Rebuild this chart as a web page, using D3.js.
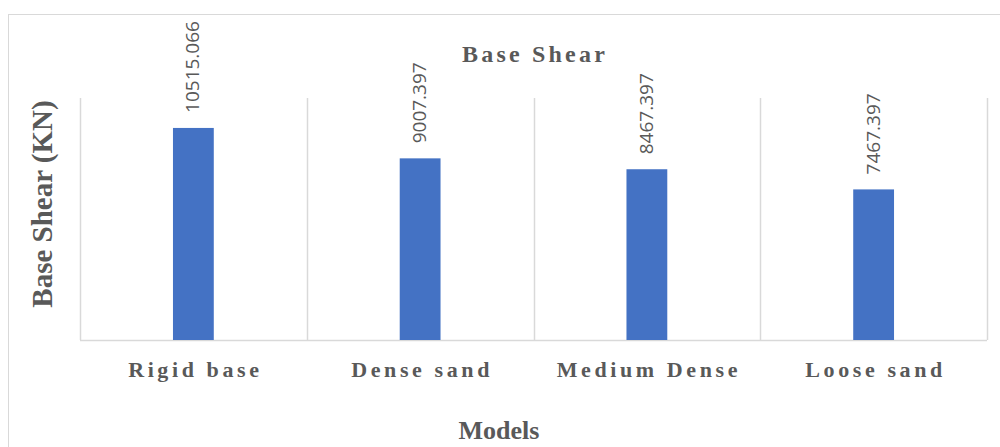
<!DOCTYPE html>
<html>
<head>
<meta charset="utf-8">
<script src="https://cdn.jsdelivr.net/npm/d3@7"></script>
<style>
  body { margin: 0; background: #fff; }
  svg { display: block; }
</style>
</head>
<body>
<div id="chart"></div>
<script>
const categories = ['Rigid base', 'Dense sand', 'Medium Dense', 'Loose sand'];
const values = [10515.066, 9007.397, 8467.397, 7467.397];
const labels = ['10515.066', '9007.397', '8467.397', '7467.397'];

const W = 1000, H = 447;
const plot = { left: 80, right: 987, top: 98, bottom: 340 };
const textColor = '#595959';
const gridColor = '#d9d9d9';

const svg = d3.select('#chart').append('svg')
  .attr('width', W)
  .attr('height', H);

// chart border
svg.append('rect')
  .attr('x', 8.5).attr('y', 14.5)
  .attr('width', 1010).attr('height', 450)
  .attr('fill', 'none')
  .attr('stroke', gridColor)
  .attr('stroke-width', 1);

const x = d3.scaleBand()
  .domain(categories)
  .range([plot.left, plot.right])
  .padding(0);

const y = d3.scaleLinear()
  .domain([0, 12000])
  .range([plot.bottom, plot.top]);

// vertical category separators
const edges = categories.map(c => x(c)).concat([plot.right]);
svg.append('g')
  .selectAll('line')
  .data(edges)
  .join('line')
  .attr('x1', d => Math.round(d) + 0.5)
  .attr('x2', d => Math.round(d) + 0.5)
  .attr('y1', y(12000))
  .attr('y2', y(0))
  .attr('stroke', gridColor)
  .attr('stroke-width', 1.5);

// baseline
svg.append('line')
  .attr('x1', plot.left).attr('x2', plot.right)
  .attr('y1', y(0) + 0.5).attr('y2', y(0) + 0.5)
  .attr('stroke', gridColor)
  .attr('stroke-width', 1.5);

const barW = x.bandwidth() * 0.18;

svg.append('g')
  .selectAll('rect')
  .data(values)
  .join('rect')
  .attr('x', (d, i) => x(categories[i]) + x.bandwidth() / 2 - barW / 2)
  .attr('y', d => y(d))
  .attr('width', barW)
  .attr('height', d => y(0) - y(d))
  .attr('fill', '#4472c4');

// data labels (rotated)
svg.append('g')
  .selectAll('text')
  .data(values)
  .join('text')
  .attr('transform', (d, i) => `translate(${x(categories[i]) + x.bandwidth() / 2 + 6}, ${y(d) - 15}) rotate(-90)`)
  .attr('text-anchor', 'start')
  .style('font-family', '"Open Sans", sans-serif')
  .style('font-size', '19px')
  .style('fill', textColor)
  .text((d, i) => labels[i]);

// category labels
svg.append('g')
  .selectAll('text')
  .data(categories)
  .join('text')
  .attr('x', d => x(d) + x.bandwidth() / 2 + 2)
  .attr('y', 377)
  .attr('text-anchor', 'middle')
  .style('font-family', '"Liberation Serif", serif')
  .style('font-weight', 'bold')
  .style('font-size', '22px')
  .style('letter-spacing', '3.6px')
  .style('fill', textColor)
  .text(d => d);

// title
svg.append('text')
  .attr('x', 535)
  .attr('y', 62)
  .attr('text-anchor', 'middle')
  .style('font-family', '"Liberation Serif", serif')
  .style('font-weight', 'bold')
  .style('font-size', '24px')
  .style('letter-spacing', '3.2px')
  .style('fill', textColor)
  .text('Base Shear');

// y axis title
svg.append('text')
  .attr('transform', 'translate(52, 204) rotate(-90)')
  .attr('text-anchor', 'middle')
  .style('font-family', '"Liberation Serif", serif')
  .style('font-weight', 'bold')
  .style('font-size', '29px')
  .style('fill', textColor)
  .text('Base Shear (KN)');

// x axis title
svg.append('text')
  .attr('x', 499)
  .attr('y', 439)
  .attr('text-anchor', 'middle')
  .style('font-family', '"Liberation Serif", serif')
  .style('font-weight', 'bold')
  .style('font-size', '26px')
  .style('fill', textColor)
  .text('Models');
</script>
</body>
</html>
